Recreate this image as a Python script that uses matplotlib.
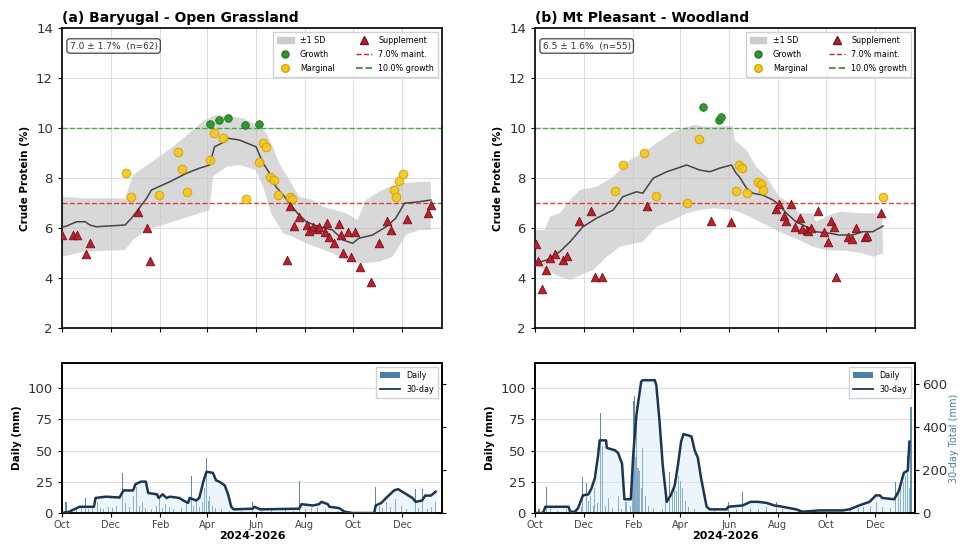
import numpy as np
import pandas as pd
import matplotlib
matplotlib.use('Agg')
import matplotlib.pyplot as plt
import matplotlib.dates as mdates
from matplotlib.patches import Patch
from matplotlib.lines import Line2D

START = pd.Timestamp('2024-10-01')
XMAX = pd.Timestamp('2026-01-20')

# ---------------- (a) Baryugal ----------------
A_TITLE = '(a) Baryugal - Open Grassland'
A_STATS = '7.0 ± 1.7%  (n=62)'
A_DAYS = [0, 14, 19, 30, 35, 95, 106, 110,
          282, 286, 291, 297, 307, 309, 314, 319, 322, 329, 332, 335, 341, 347, 350, 352,
          358, 362, 367, 373, 387, 397, 407, 412, 432, 459, 462,
          80, 86, 121, 145, 150, 156, 185, 191, 202, 230, 247, 252, 256, 261, 265, 270,
          285, 288, 416, 418, 422, 427,
          186, 197, 208, 229, 247]
A_CP = [5.72, 5.72, 5.72, 4.96, 5.41, 6.65, 6.01, 4.68,
        4.72, 6.88, 6.08, 6.45, 6.12, 5.89, 6.05, 5.95, 6.05, 5.85, 6.19, 5.65, 5.41, 6.16, 5.72, 4.99,
        5.85, 4.85, 5.83, 4.45, 3.85, 5.41, 6.29, 5.92, 6.35, 6.59, 6.92,
        8.19, 7.25, 7.32, 9.05, 8.36, 7.45, 8.72, 9.79, 9.59, 7.16, 8.65, 9.39, 9.25, 8.05, 7.92, 7.32,
        7.25, 7.15, 7.52, 7.25, 7.89, 8.16,
        10.16, 10.32, 10.39, 10.12, 10.16]
A_MEAN_DAYS = [0, 6, 18, 29, 35, 43, 79, 87, 95, 106, 112, 135, 156, 172, 185, 191, 200, 208,
               222, 243, 252, 260, 268, 277, 285, 295, 306, 322, 339, 352, 364, 372, 389, 406,
               418, 429, 447, 462]
A_MEAN = [6.03, 6.08, 6.25, 6.25, 6.12, 6.05, 6.12, 6.39, 6.72, 7.19, 7.52, 7.85, 8.19, 8.39,
          8.52, 9.25, 9.39, 9.59, 9.52, 9.25, 8.59, 8.19, 7.65, 7.32, 6.99, 6.59, 6.25, 6.05,
          5.92, 5.52, 5.39, 5.59, 5.72, 6.05, 6.39, 6.99, 7.05, 7.12]
A_UP_DAYS = [0, 27, 79, 89, 110, 139, 164, 179, 193, 227, 248, 256, 264, 272, 285, 297, 314,
             327, 356, 370, 381, 397, 410, 427, 447, 462]
A_UP = [7.25, 7.19, 7.19, 8.12, 8.59, 9.25, 9.92, 10.32, 10.52, 10.39, 10.05, 9.79, 9.25, 8.59,
        7.92, 7.25, 7.12, 6.85, 6.59, 6.32, 7.12, 7.45, 7.65, 7.79, 7.85, 7.85]
A_LO_DAYS = [0, 27, 79, 89, 106, 139, 185, 189, 206, 222, 243, 252, 262, 277, 289, 306, 339,
             356, 372, 397, 414, 431, 447, 462]
A_LO = [4.85, 5.05, 5.12, 5.52, 5.92, 6.25, 6.72, 8.05, 8.45, 8.52, 8.32, 7.65, 6.59, 5.79,
        5.65, 5.39, 4.99, 4.72, 4.59, 4.65, 4.85, 5.72, 5.92, 5.92]
A_RAIN_DAYS = [3, 5, 12, 18, 24, 30, 33, 38, 45, 48, 52, 58, 63, 68, 76, 80, 84, 89, 93, 97, 101,
               105, 112, 118, 122, 126, 130, 135, 140, 150, 156, 162, 165, 168, 172, 176, 178,
               181, 183, 185, 188, 192, 200, 210, 225, 239, 250, 262, 280, 290, 298, 305, 312,
               320, 330, 345, 393, 398, 402, 407, 412, 418, 425, 432, 443, 447, 451, 458, 463, 468]
A_RAIN = [2, 9, 3, 4, 6, 12, 3, 5, 9, 4, 3, 5, 4, 6, 32, 8, 5, 14, 21, 6, 9,
          4, 3, 6, 11, 4, 7, 5, 3, 4, 8, 30, 6, 11, 5, 9, 20,
          44, 10, 14, 6, 4, 3, 2, 2, 9, 2, 3, 3, 2, 26, 3, 4,
          5, 3, 2, 21, 6, 4, 9, 5, 11, 6, 3, 19, 4, 19, 3, 5, 9]
A_R30_DAYS = [0, 9, 22, 40, 42, 55, 72, 77, 89, 92, 99, 105, 108, 119, 121, 126, 131, 135, 147,
              152, 158, 160, 168, 172, 177, 181, 189, 193, 197, 204, 208, 212, 215, 239, 241,
              248, 297, 300, 314, 322, 325, 333, 335, 347, 354, 364, 391, 393, 400, 406, 416,
              421, 429, 439, 443, 451, 455, 462, 468]
A_R30 = [0, 6, 29, 29, 70, 76, 72, 105, 105, 134, 146, 146, 93, 87, 70, 87, 70, 76, 70,
         58, 47, 70, 58, 70, 146, 192, 187, 152, 146, 128, 87, 29, 17, 20, 29,
         17, 20, 41, 35, 41, 52, 41, 29, 23, 6, 0, 0, 35, 47, 70, 105,
         111, 93, 70, 52, 58, 81, 81, 99]

# ---------------- (b) Mt Pleasant ----------------
B_TITLE = '(b) Mt Pleasant - Woodland'
B_STATS = '6.5 ± 1.6%  (n=55)'
B_DAYS = [1, 4, 9, 14, 19, 25, 35, 40, 55, 70, 75, 84, 140, 221, 246, 302, 306, 312, 314, 321,
          326, 332, 334, 341, 342, 346, 354, 362, 367, 371, 374, 377, 392, 397, 402, 413, 416, 434,
          100, 110, 136, 151, 190, 206, 252, 256, 259, 266, 279, 283, 286, 436,
          210, 231, 233]
B_CP = [5.38, 4.68, 3.55, 4.33, 4.79, 4.95, 4.72, 4.90, 6.28, 6.67, 4.04, 4.04, 6.90, 6.30, 6.23,
        6.75, 6.97, 6.48, 6.28, 6.98, 6.05, 6.39, 5.95, 5.93, 5.90, 6.02, 6.69, 5.85, 5.43, 6.28,
        6.05, 4.05, 5.65, 5.57, 5.99, 5.65, 5.70, 6.59,
        7.48, 8.52, 8.99, 7.30, 7.02, 9.58, 7.50, 8.52, 8.40, 7.40, 7.83, 7.76, 7.52, 7.24,
        10.83, 10.33, 10.45]
B_MEAN_DAYS = [1, 15, 31, 44, 60, 77, 98, 110, 127, 135, 148, 165, 190, 206, 219, 231, 246, 252,
               256, 265, 273, 285, 298, 306, 315, 327, 340, 352, 369, 381, 398, 410, 423, 436]
B_MEAN = [4.59, 4.72, 5.05, 5.45, 6.05, 6.39, 6.72, 7.25, 7.45, 7.39, 7.99, 8.25, 8.52, 8.32,
          8.25, 8.39, 8.52, 8.19, 8.05, 7.59, 7.39, 7.32, 7.12, 6.92, 6.59, 6.25, 6.05, 5.85,
          5.79, 5.72, 5.72, 5.85, 5.85, 6.08]
B_UP_DAYS = [1, 12, 19, 31, 44, 56, 77, 98, 119, 135, 152, 173, 198, 215, 248, 250, 265, 277,
             290, 298, 306, 319, 331, 348, 352, 365, 381, 410, 435]
B_UP = [5.92, 5.92, 6.45, 6.59, 7.12, 7.52, 7.65, 8.05, 8.72, 8.99, 9.39, 9.85, 10.12, 10.05,
        10.08, 9.52, 9.12, 8.45, 8.05, 7.65, 7.25, 6.99, 6.59, 6.59, 6.25, 6.45, 6.65, 6.59, 6.59]
B_LO_DAYS = [1, 15, 31, 44, 52, 73, 90, 106, 135, 152, 173, 190, 206, 223, 248, 260, 277, 294,
             310, 331, 348, 365, 390, 410, 423, 436]
B_LO = [4.45, 4.32, 4.05, 3.92, 4.05, 4.32, 4.85, 5.25, 5.45, 6.05, 6.32, 6.59, 6.72, 6.79,
        6.72, 6.59, 6.32, 6.05, 5.79, 5.52, 5.25, 5.12, 5.09, 4.99, 4.85, 4.99]
B_RAIN_DAYS = [5, 14, 20, 28, 40, 52, 58, 60, 64, 67, 70, 73, 75, 78, 82, 85, 88, 92, 97, 104,
               108, 114, 120, 122, 123, 124, 125, 126, 127, 128, 129, 131, 133, 135, 138, 142,
               148, 160, 164, 169, 172, 175, 177, 180, 182, 185, 188, 192, 200, 225, 242, 252,
               260, 270, 280, 290, 302, 310, 330, 360, 385, 395, 405, 412, 420, 428, 435, 445,
               452, 455, 458, 461, 464, 467, 469, 471]
B_RAIN = [3, 21, 4, 2, 3, 2, 5, 29, 24, 10, 14, 6, 20, 8, 80, 54, 6, 12, 4, 14,
          3, 9, 6, 40, 90, 60, 94, 45, 86, 30, 36, 34, 20, 52, 14, 6,
          4, 3, 14, 33, 15, 25, 18, 30, 26, 20, 10, 5, 3, 2, 9, 3,
          17, 4, 3, 5, 9, 3, 2, 2, 2, 3, 4, 5, 6, 9, 5, 4,
          25, 17, 20, 25, 30, 46, 20, 85]
B_R30_DAYS = [0, 10, 13, 42, 44, 50, 54, 60, 67, 71, 75, 79, 81, 89, 90, 100, 104, 109, 112,
              120, 123, 127, 133, 135, 150, 152, 156, 160, 165, 170, 175, 179, 183, 186, 192,
              196, 200, 204, 208, 215, 219, 240, 242, 260, 270, 279, 290, 300, 310, 327, 335,
              356, 385, 394, 406, 419, 427, 432, 435, 450, 456, 462, 467, 469]
B_R30 = [0, 0, 29, 29, 6, 6, 23, 82, 87, 117, 163, 268, 338, 338, 303, 292, 280, 230, 64,
         64, 268, 455, 612, 618, 618, 595, 426, 222, 52, 82, 128, 222, 332, 367, 361,
         356, 292, 257, 163, 29, 17, 17, 29, 35, 52, 52, 47, 35, 29, 17, 6,
         12, 12, 17, 35, 52, 82, 82, 70, 64, 105, 187, 198, 332]

MAINT = 7.0
GROWTH = 10.0

C_GREEN = '#2e9a2e'
C_YELLOW = '#f2c81c'
C_RED = '#b8202e'
C_BAR = '#4a7fa8'
C_LINE = '#1d3650'


def to_num(days):
    return mdates.date2num(START + pd.to_timedelta(np.asarray(days, dtype=float), unit='D'))


def style_xaxis(ax):
    ax.xaxis.set_major_locator(mdates.MonthLocator(bymonth=[2, 4, 6, 8, 10, 12]))
    ax.xaxis.set_major_formatter(mdates.DateFormatter('%b'))
    ax.set_xlim(mdates.date2num(START), mdates.date2num(XMAX))


def draw_cp(ax, days, cp, mdays, mean, updays, up, lodays, lo, title, stats):
    xu = to_num(updays)
    xl = to_num(lodays)
    ax.fill(np.concatenate([xu, xl[::-1]]), np.concatenate([up, lo[::-1]]),
            color='#c4c4c4', alpha=0.65, lw=0, zorder=1)
    ax.plot(to_num(mdays), mean, color='#444444', lw=1.1, zorder=3)
    ax.axhline(MAINT, color='#d62728', ls='--', lw=1.0, alpha=0.85, zorder=2)
    ax.axhline(GROWTH, color='#2ca02c', ls='--', lw=1.0, alpha=0.85, zorder=2)
    d = np.asarray(days, float)
    c = np.asarray(cp, float)
    g = c >= GROWTH
    m = (c >= MAINT) & (c < GROWTH)
    s = c < MAINT
    ax.scatter(to_num(d[g]), c[g], s=30, marker='o', color=C_GREEN, edgecolor='#1f6f1f',
               lw=0.6, zorder=5)
    ax.scatter(to_num(d[m]), c[m], s=38, marker='o', color=C_YELLOW, edgecolor='#d9a400',
               lw=0.8, alpha=0.9, zorder=5)
    ax.scatter(to_num(d[s]), c[s], s=38, marker='^', color=C_RED, edgecolor='#7a1018',
               lw=0.6, zorder=5)
    ax.set_ylim(2, 14)
    ax.set_yticks([2, 4, 6, 8, 10, 12, 14])
    style_xaxis(ax)
    ax.tick_params(axis='x', labelbottom=False, length=3)
    ax.tick_params(axis='y', labelsize=9.5, labelcolor='#333333', length=3)
    ax.grid(True, color='#dddddd', lw=0.7, zorder=0)
    ax.set_axisbelow(True)
    ax.set_ylabel('Crude Protein (%)', fontsize=7.5, fontweight='bold')
    ax.set_title(title, loc='left', fontsize=10, fontweight='bold', pad=4)
    for sp in ax.spines.values():
        sp.set_linewidth(1.2)
    ax.text(0.02, 0.955, stats, transform=ax.transAxes, fontsize=6.5, va='top', ha='left',
            color='#333333',
            bbox=dict(boxstyle='round,pad=0.3', fc='white', ec='#444444', lw=0.9))
    handles = [
        Patch(facecolor='#cccccc', edgecolor='#cccccc', label='±1 SD'),
        Line2D([], [], marker='o', ls='none', color=C_GREEN, markeredgecolor='#1f6f1f',
               markersize=5, label='Growth'),
        Line2D([], [], marker='o', ls='none', color=C_YELLOW, markeredgecolor='#d9a400',
               markersize=5.5, label='Marginal'),
        Line2D([], [], marker='^', ls='none', color=C_RED, markeredgecolor='#7a1018',
               markersize=5.5, label='Supplement'),
        Line2D([], [], color='#d62728', ls='--', lw=1.0, label=f'{MAINT:.1f}% maint.'),
        Line2D([], [], color='#2ca02c', ls='--', lw=1.3, label=f'{GROWTH:.1f}% growth'),
    ]
    ax.legend(handles=handles, loc='upper right', ncol=2, fontsize=5.8, frameon=True,
              framealpha=0.9, edgecolor='#cccccc', handlelength=2.0, columnspacing=2.6,
              borderpad=0.5, labelspacing=0.6, fancybox=False)


def draw_rain(ax, rdays, rain, r30days, r30, show_right):
    ax.bar(to_num(rdays), rain, width=1.3, color=C_BAR, alpha=0.9, lw=0, zorder=2,
           label='Daily')
    ax.set_ylim(0, 120)
    ax.set_yticks([0, 25, 50, 75, 100])
    style_xaxis(ax)
    ax.grid(True, axis='y', color='#dddddd', lw=0.7, zorder=0)
    ax.set_axisbelow(True)
    ax.tick_params(axis='y', labelsize=9.5, labelcolor='#333333', length=3)
    ax.tick_params(axis='x', labelsize=7, labelcolor='#444444', length=3, pad=2)
    ax.set_ylabel('Daily (mm)', fontsize=7.5, fontweight='bold')
    ax.set_xlabel('2024-2026', fontsize=8, fontweight='bold', labelpad=1)
    for sp in ax.spines.values():
        sp.set_linewidth(1.2)
    tw = ax.twinx()
    x30 = to_num(r30days)
    tw.fill_between(x30, 0, r30, color='#cfe6f3', alpha=0.4, lw=0, zorder=1)
    tw.plot(x30, r30, color=C_LINE, lw=1.8, zorder=3)
    tw.set_ylim(0, 698)
    tw.set_yticks([0, 200, 400, 600])
    tw.tick_params(axis='y', labelsize=9.5, labelcolor='#333333', length=3, pad=2)
    if show_right:
        tw.set_ylabel('30-day Total (mm)', fontsize=7, color='#4a7fa8', labelpad=1)
    else:
        tw.tick_params(axis='y', labelright=False)
    for sp in tw.spines.values():
        sp.set_linewidth(1.2)
    handles = [Patch(facecolor=C_BAR, label='Daily'),
               Line2D([], [], color=C_LINE, lw=1.3, label='30-day')]
    ax.legend(handles=handles, loc='upper right', fontsize=5.8, frameon=True, framealpha=0.9,
              edgecolor='#cccccc', handlelength=2.4, borderpad=0.5, labelspacing=0.6,
              fancybox=False)


fig = plt.figure(figsize=(9.62, 5.46), dpi=100)
W, H = 962.0, 546.0
ax_a = fig.add_axes([62 / W, (H - 328) / H, 380 / W, 300 / H])
ax_b = fig.add_axes([535 / W, (H - 328) / H, 380 / W, 300 / H])
ax_ra = fig.add_axes([62 / W, (H - 513) / H, 380 / W, 150 / H])
ax_rb = fig.add_axes([535 / W, (H - 513) / H, 380 / W, 150 / H])

draw_cp(ax_a, A_DAYS, A_CP, A_MEAN_DAYS, A_MEAN, A_UP_DAYS, np.array(A_UP), A_LO_DAYS,
        np.array(A_LO), A_TITLE, A_STATS)
draw_cp(ax_b, B_DAYS, B_CP, B_MEAN_DAYS, B_MEAN, B_UP_DAYS, np.array(B_UP), B_LO_DAYS,
        np.array(B_LO), B_TITLE, B_STATS)
draw_rain(ax_ra, A_RAIN_DAYS, A_RAIN, A_R30_DAYS, A_R30, False)
draw_rain(ax_rb, B_RAIN_DAYS, B_RAIN, B_R30_DAYS, B_R30, True)

fig.savefig('out.png', dpi=100)
